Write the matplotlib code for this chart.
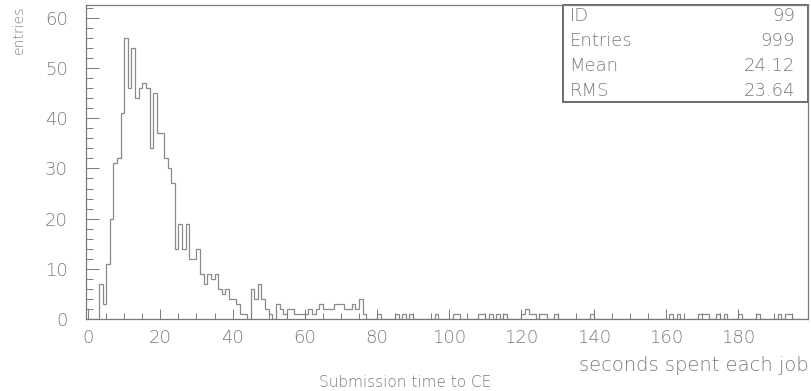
import numpy as np
import matplotlib.pyplot as plt
from matplotlib.ticker import MultipleLocator

# counts per 1-second bin, bins 0..50
core_counts = [0, 0, 0, 7, 3, 11, 20, 31, 32, 41,
               56, 46, 54, 44, 46, 47, 46, 34, 45, 37,
               37, 32, 30, 27, 14, 19, 14, 19, 12, 12,
               14, 9, 7, 9, 8, 9, 6, 5, 6, 4,
               4, 3, 1, 1, 0, 6, 4, 7, 4, 2,
               1]
# sparse tail: (bin, count)
tail_bins = [52, 53, 54, 55, 56, 57, 58, 59, 60, 61, 62, 63, 64, 65, 66, 67,
             68, 69, 70, 71, 72, 73, 74, 75, 76, 80, 85, 87, 89, 96,
             101, 102, 108, 109, 111, 113, 115, 120, 121, 122, 123, 125, 126,
             129, 139, 161, 163, 169, 170, 171, 174, 176, 180, 185, 191, 193, 194]
tail_counts = [3, 2, 1, 2, 2, 1, 1, 1, 1, 2, 1, 2, 3, 2, 2, 2,
               3, 3, 3, 2, 2, 3, 2, 4, 1, 1, 1, 1, 1, 1,
               1, 1, 1, 1, 1, 1, 1, 1, 2, 1, 1, 1, 1,
               1, 1, 1, 1, 1, 1, 1, 1, 1, 1, 1, 1, 1, 1]

stats_names = ["ID", "Entries", "Mean", "RMS"]
stats_values = ["99", "999", "24.12", "23.64"]

N_BINS = 200
counts = np.zeros(N_BINS)
counts[:len(core_counts)] = core_counts
counts[tail_bins] = tail_counts
edges = np.arange(N_BINS + 1)

GREY = "#7a7a7a"
plt.rcParams["font.family"] = ["DejaVu Sans"]
plt.rcParams["font.weight"] = "light"

fig = plt.figure(figsize=(8.11, 3.91), dpi=100)
ax = fig.add_axes([0.106, 0.184, 0.890, 0.802])

ax.stairs(counts, edges, color="#8a8a8a", lw=0.9, baseline=0)

ax.set_xlim(-0.6, 199.3)
ax.set_ylim(0, 62.45)

ax.xaxis.set_major_locator(MultipleLocator(20))
ax.xaxis.set_minor_locator(MultipleLocator(5))
ax.yaxis.set_major_locator(MultipleLocator(10))
ax.yaxis.set_minor_locator(MultipleLocator(2))
ax.tick_params(axis="both", which="both", direction="in", color=GREY,
               width=0.7, labelcolor=GREY, labelsize=13)
ax.tick_params(axis="x", which="major", length=7.5, pad=7)
ax.tick_params(axis="x", which="minor", length=4)
ax.tick_params(axis="y", which="major", length=9.5, pad=13)
ax.tick_params(axis="y", which="minor", length=5)
for s in ax.spines.values():
    s.set_color(GREY)
    s.set_linewidth(0.9)

# statistics box in the upper right corner
box = plt.Rectangle((0.661, 0.693), 0.339, 0.307, transform=ax.transAxes,
                    fill=False, ec="#606060", lw=1.3, clip_on=False)
ax.add_patch(box)
for i, (name, val) in enumerate(zip(stats_names, stats_values)):
    y = 0.966 - i * 0.08
    ax.text(0.670, y, name, transform=ax.transAxes, ha="left", va="center",
            fontsize=13, color=GREY)
    ax.text(0.982, y, val, transform=ax.transAxes, ha="right", va="center",
            fontsize=13, color=GREY)

fig.text(0.015, 0.985, "entries", rotation=90, ha="left", va="top",
         fontsize=10, color=GREY)
fig.text(0.997, 0.066, "seconds spent each job", ha="right", va="center",
         fontsize=14, color=GREY)
fig.text(0.5, 0.022, "Submission time to CE", ha="center", va="center",
         fontsize=11, color=GREY)

fig.savefig("out.png", dpi=100)
